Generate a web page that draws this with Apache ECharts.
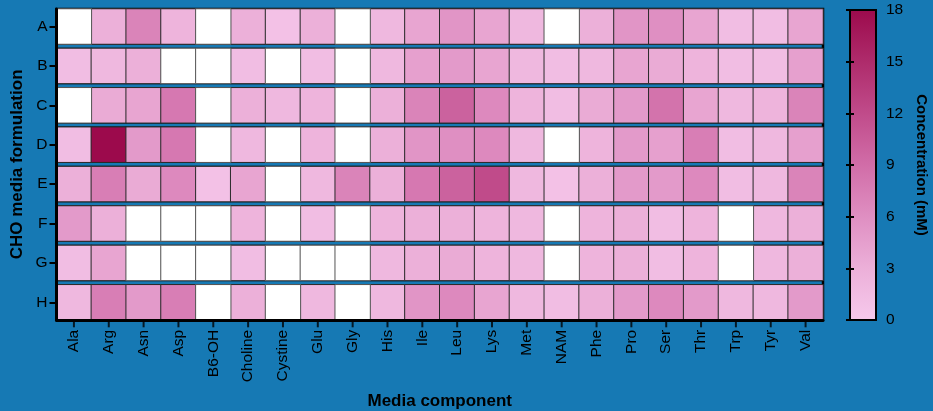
<!DOCTYPE html>
<html>
<head>
<meta charset="utf-8">
<script src="https://cdn.jsdelivr.net/npm/echarts@6/dist/echarts.min.js"></script>
<style>
html,body{margin:0;padding:0;background:#1679b4;}
#chart{width:933px;height:411px;}
</style>
</head>
<body>
<div id="chart"></div>
<script>
// ---- data ----
const components = ['Ala','Arg','Asn','Asp','B6-OH','Choline','Cystine','Glu','Gly','His','Ile','Leu','Lys','Met','NAM','Phe','Pro','Ser','Thr','Trp','Tyr','Val'];
const formulations = ['A','B','C','D','E','F','G','H'];
const colorTicks = [0,3,6,9,12,15,18];
// concentration (mM); null = component absent (white)
const rowA = [null,3,7,2.5,null,3,1,3,null,2,4,5.5,4,2,null,3,5.5,6,4,1.5,1.5,4];
const rowB = [1.5,2,3,null,null,1.5,null,1.5,null,2,4.5,5,4,2,1.5,2,4,3.5,2.5,1.5,1.5,4.5];
const rowC = [null,3.5,4,8,null,3,2,2.5,null,3,7,10,6.5,2.5,1.5,3.5,5,8.5,4,2,2.5,7];
const rowD = [1.5,18,5,8,null,2,null,2.5,null,3,5.5,6,6.5,2,null,2.5,5,4.5,7.5,1.5,2,4.5];
const rowE = [3,7.5,3.5,6.5,1,4,null,2,7,3,8,10,12,2,1,3,5,5,6.5,1.5,2,7];
const rowF = [5,3,null,null,null,2.5,null,1.5,null,2.5,3,3,2.5,2,null,2.5,3,1.5,2.5,null,2,3];
const rowG = [1.5,4,null,null,null,1.5,null,null,null,2,3,3.5,2.5,2,null,2.5,3,1.5,2.5,null,2,3];
const rowH = [2,7.5,5,7.5,null,3,null,2,null,2,5.5,6.5,4,2,1.5,3,5,6.5,5,2,2,5];
const rows = [rowA,rowB,rowC,rowD,rowE,rowF,rowG,rowH];

// ---- styling ----
const FONT = 'Liberation Sans, Arial, sans-serif';
const rampColors = ['#f6c9ec','#ecb0d9','#df8fc2','#d16da8','#c04b8a','#ae2b6b','#9c0a4c'];
const L = 56.5, R = 110, TOP0 = 9, PITCH = 39.4, PH = 35;
const n = rows.length;

const grids = [], xAxes = [], yAxes = [], series = [], valueSeries = [];
rows.forEach((row, i) => {
  const last = i === n - 1;
  grids.push({left: L, right: R, top: TOP0 + PITCH * i, height: PH, outerBoundsMode: 'none', containLabel: false,
    show: true, backgroundColor: '#fff', borderColor: '#000', borderWidth: 1.5});
  xAxes.push({type: 'category', gridIndex: i, data: components, z: 10,
    axisLine: {show: last, onZero: false, lineStyle: {color: '#000', width: 3}},
    axisTick: {show: false},
    axisLabel: {show: last, rotate: 90, margin: 10, color: '#000', fontSize: 15.5, fontFamily: FONT, interval: 0},
    name: last ? 'Media component' : '', nameLocation: 'middle', nameGap: 73,
    nameTextStyle: {color: '#000', fontSize: 17, fontWeight: 'bold', fontFamily: FONT},
    splitLine: {show: false}});
  yAxes.push({type: 'category', gridIndex: i, data: [formulations[i]], z: 10,
    axisLine: {show: false},
    axisTick: {show: true, alignWithLabel: true, length: 7, lineStyle: {color: '#000', width: 2}},
    axisLabel: {color: '#000', fontSize: 15.5, margin: 9, fontFamily: FONT},
    splitLine: {show: false}});
  const present = [], missing = [];
  row.forEach((v, j) => { if (v === null) missing.push([j, 0, 0]); else present.push([j, 0, v]); });
  valueSeries.push(series.length);
  series.push({type: 'heatmap', xAxisIndex: i, yAxisIndex: i, data: present,
    itemStyle: {borderColor: '#2a2a2a', borderWidth: 1}, emphasis: {disabled: true}});
  series.push({type: 'heatmap', xAxisIndex: i, yAxisIndex: i, data: missing,
    itemStyle: {color: '#ffffff', borderColor: '#555', borderWidth: 1}, emphasis: {disabled: true}});
});

// frame grid around all panels (carries the bottom tick marks)
const fi = grids.length;
grids.push({left: L, right: R, top: TOP0, bottom: 411 - (TOP0 + PITCH * (n - 1) + PH),
  outerBoundsMode: 'none', containLabel: false,
  show: true, backgroundColor: 'transparent', borderColor: '#000', borderWidth: 2.5});
xAxes.push({type: 'category', gridIndex: fi, data: components, show: false});
yAxes.push({type: 'value', gridIndex: fi, min: 0, max: 1, z: 10,
  axisLine: {show: true, lineStyle: {color: '#000', width: 3}},
  axisTick: {show: false}, axisLabel: {show: false}, splitLine: {show: false},
  name: 'CHO media formulation', nameLocation: 'middle', nameGap: 31,
  nameTextStyle: {color: '#000', fontSize: 17, fontWeight: 'bold', fontFamily: FONT}});
series.push({type: 'scatter', xAxisIndex: fi, yAxisIndex: fi, clip: false, silent: true, z: 10,
  data: components.map(c => [c, 0]), symbol: 'rect', symbolSize: [2, 7], symbolOffset: [0, 4],
  itemStyle: {color: '#000'}});

// colour bar grid
const ci = grids.length;
const stops = rampColors.map((c, k) => ({offset: k / (rampColors.length - 1), color: c}));
grids.push({left: 850, width: 26, top: 10, bottom: 91, outerBoundsMode: 'none', containLabel: false, show: true,
  backgroundColor: {type: 'linear', x: 0, y: 1, x2: 0, y2: 0, colorStops: stops},
  borderColor: '#000', borderWidth: 2});
xAxes.push({type: 'value', gridIndex: ci, show: false});
yAxes.push({type: 'value', gridIndex: ci, position: 'right', min: 0, max: 18, interval: 3,
  axisLine: {show: false},
  axisTick: {show: true, inside: true, length: 4, lineStyle: {color: '#000', width: 2}},
  axisLabel: {color: '#000', fontSize: 15.5, margin: 10, fontFamily: FONT,
    formatter: v => colorTicks.includes(v) ? String(v) : ''},
  splitLine: {show: false},
  name: 'Concentration (mM)', nameLocation: 'middle', nameGap: 38, nameRotate: -90,
  nameTextStyle: {color: '#000', fontSize: 15, fontWeight: 'bold', fontFamily: FONT}});
yAxes.push({type: 'value', gridIndex: ci, position: 'left', min: 0, max: 18, interval: 3,
  axisLine: {show: false},
  axisTick: {show: true, inside: true, length: 4, lineStyle: {color: '#000', width: 2}},
  axisLabel: {show: false}, splitLine: {show: false}});

const chart = echarts.init(document.getElementById('chart'), null, {renderer: 'canvas'});
chart.setOption({
  backgroundColor: '#1679b4',
  animation: false,
  textStyle: {fontFamily: FONT},
  grid: grids,
  xAxis: xAxes,
  yAxis: yAxes,
  visualMap: {show: false, type: 'continuous', min: 0, max: 18, seriesIndex: valueSeries,
    inRange: {color: rampColors}},
  series: series
});
</script>
</body>
</html>
